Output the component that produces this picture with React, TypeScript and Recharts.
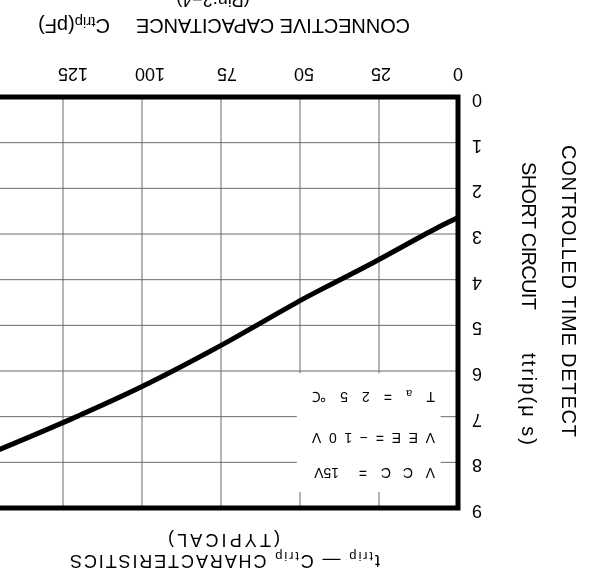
import React from 'react';
import { LineChart, Line, XAxis, YAxis, CartesianGrid, ReferenceArea } from 'recharts';

const capacitance = [0, 5, 10, 25, 50, 75, 100, 125, 150];
const ttrip = [2.64, 2.81, 2.99, 3.56, 4.46, 5.44, 6.34, 7.13, 7.86];
const xTicks = [0, 25, 50, 75, 100, 125, 150];
const xTickLabels = ['0', '25', '50', '75', '100', '125', ''];
const yTicks = [0, 1, 2, 3, 4, 5, 6, 7, 8, 9];

const data = capacitance.map((c, i) => ({ c, t: ttrip[i] }));

const FONT = '"Liberation Sans", Arial, Helvetica, sans-serif';

const XTick = (props: any) => {
  const { x, y, payload } = props;
  const idx = xTicks.indexOf(payload.value);
  const label = idx >= 0 ? xTickLabels[idx] : String(payload.value);
  if (!label) return null;
  return (
    <text
      x={x}
      y={y}
      dx={-payload.value * 0.08}
      textAnchor="middle"
      dominantBaseline="central"
      fontSize={18}
      fontFamily={FONT}
      fill="#000"
    >
      {label}
    </text>
  );
};

const YTick = (props: any) => {
  const { x, y, payload } = props;
  return (
    <text x={x} y={y - 3} textAnchor="end" dominantBaseline="central" fontSize={18} fontFamily={FONT} fill="#000">
      {payload.value}
    </text>
  );
};

export default function App() {
  return (
    <div
      style={{
        position: 'fixed',
        left: 0,
        top: 0,
        width: 589,
        height: 585,
        overflow: 'hidden',
        background: '#fff',
        transform: 'rotate(180deg)',
      }}
    >
      <div style={{ position: 'absolute', left: 0, top: 0 }}>
        <LineChart width={620} height={585} data={data} margin={{ top: 77, right: 15, bottom: 67, left: 91 }}>
          <CartesianGrid stroke="#6a6a6a" strokeWidth={1} />
          <XAxis
            dataKey="c"
            type="number"
            domain={[0, 150]}
            ticks={xTicks}
            height={30}
            axisLine={false}
            tickLine={false}
            tickSize={0}
            tickMargin={23}
            tick={<XTick />}
            interval={0}
          />
          <YAxis
            type="number"
            domain={[0, 9]}
            ticks={yTicks}
            width={40}
            axisLine={false}
            tickLine={false}
            tickSize={0}
            tickMargin={14}
            tick={<YTick />}
            interval={0}
          />
          <ReferenceArea x1={5.5} x2={51} y1={6.05} y2={8.65} fill="#fff" fillOpacity={1} stroke="none" />
          <ReferenceArea x1={0} x2={150} y1={0} y2={9} fill="none" stroke="#000" strokeWidth={5} ifOverflow="visible" />
          <Line dataKey="t" type="monotone" stroke="#000" strokeWidth={5} dot={false} isAnimationActive={false} />
        </LineChart>
      </div>
      <svg
        width={589}
        height={585}
        style={{ position: 'absolute', left: 0, top: 0, overflow: 'hidden' }}
        fontFamily={FONT}
        fill="#000"
      >
        <text x={364} y={30} textAnchor="middle" fontSize={18} textLength={310} lengthAdjust="spacing">
          <tspan>t</tspan>
          <tspan fontSize={13} dy={3}>trip</tspan>
          <tspan dy={-3}> — C</tspan>
          <tspan fontSize={13} dy={3}>trip</tspan>
          <tspan dy={-3}>    CHARACTERISTICS</tspan>
        </text>
        <text x={365} y={51} textAnchor="middle" fontSize={18} textLength={112} lengthAdjust="spacing">
          (TYPICAL)
        </text>

        <text
          x={20}
          y={294}
          transform="rotate(-90 20 294)"
          textAnchor="middle"
          dominantBaseline="central"
          fontSize={20}
          textLength={292}
          lengthAdjust="spacing"
        >
          CONTROLLED TIME DETECT
        </text>
        <text
          x={60}
          y={349}
          transform="rotate(-90 60 349)"
          textAnchor="middle"
          dominantBaseline="central"
          fontSize={20}
          textLength={148}
          lengthAdjust="spacing"
        >
          SHORT CIRCUIT
        </text>
        <text
          x={60}
          y={186}
          transform="rotate(-90 60 186)"
          textAnchor="middle"
          dominantBaseline="central"
          fontSize={20}
          textLength={92}
          lengthAdjust="spacing"
        >
          ttrip(μ s)
        </text>

        <text x={316} y={566} textAnchor="middle" fontSize={20} textLength={274} lengthAdjust="spacing">
          CONNECTIVE CAPACITANCE
        </text>
        <text x={515} y={566} textAnchor="middle" fontSize={20}>
          <tspan>C</tspan>
          <tspan fontSize={15} dy={2}>trip</tspan>
          <tspan dy={-2}>(pF)</tspan>
        </text>
        <text x={376} y={591} textAnchor="middle" fontSize={18}>
          (Pin:2−4)
        </text>

        <text y={117} fontSize={14}>
          <tspan x="154 176 198 222">VCC=</tspan>
          <tspan x={250}>15V</tspan>
        </text>
        <text x={154} y={152} fontSize={14} textLength={123} lengthAdjust="spacing">
          VEE=−10V
        </text>
        <text x={154} y={193} fontSize={14} textLength={123} lengthAdjust="spacing">
          <tspan>T</tspan>
          <tspan fontSize={11} dy={2}>a</tspan>
          <tspan dy={-2}>=25℃</tspan>
        </text>
      </svg>
    </div>
  );
}
